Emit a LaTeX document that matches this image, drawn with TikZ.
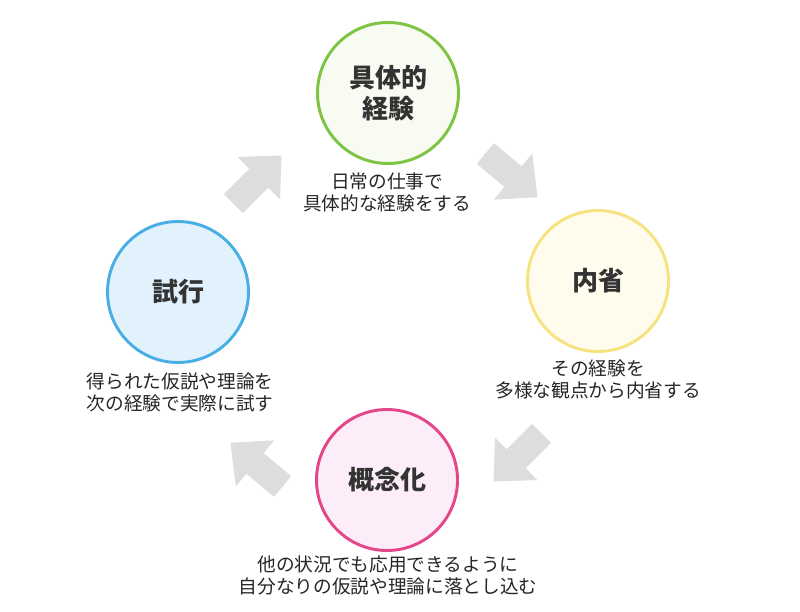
\documentclass[tikz,border=0pt]{standalone}
\usepackage{fontspec}
\newfontfamily\cjk{Noto Sans CJK JP}
\definecolor{arrowgray}{HTML}{DDDDDD}
\definecolor{gstroke}{HTML}{7DC443}
\definecolor{gfill}{HTML}{F7FBF2}
\definecolor{ystroke}{HTML}{F6E27E}
\definecolor{yfill}{HTML}{FFFCEE}
\definecolor{pstroke}{HTML}{E5468A}
\definecolor{pfill}{HTML}{FCEDF8}
\definecolor{bstroke}{HTML}{4AAEE6}
\definecolor{bfill}{HTML}{E1F2FC}
\definecolor{txt}{HTML}{333333}
\tikzset{
  stage/.style={circle, line width=2.2pt, minimum size=141*0.75pt, inner sep=0pt, align=center,
    font=\cjk\bfseries\fontsize{19.5}{23}\selectfont, text=txt},
  caption/.style={align=center, font=\cjk\fontsize{14}{16.5}\selectfont, text=black!85},
  blockarrow/.style={fill=arrowgray, draw=arrowgray, line width=0.6pt, line join=round}
}
\newcommand\bigarrow[3]{%
  \path[blockarrow, shift={(#1,#2)}, rotate=#3]
    (-33,13) -- (3,13) -- (3,29) -- (34,0) -- (3,-29) -- (3,-13) -- (-33,-13) -- cycle;}
\begin{document}
\begin{tikzpicture}[x=0.75pt,y=-0.75pt]
\useasboundingbox[fill=white] (0,0) rectangle (800,611);
\node[stage, draw=gstroke, fill=gfill] (exp) at (388,93) {具体的\\経験};
\node[stage, draw=ystroke, fill=yfill] (ref) at (598,281) {内省};
\node[stage, draw=pstroke, fill=pfill] (con) at (387,480) {概念化};
\node[stage, draw=bstroke, fill=bfill] (act) at (178,292) {試行};
\node[caption] (expc) at (387,192) {日常の仕事で\\具体的な経験をする};
\node[caption] (refc) at (598,379) {その経験を\\多様な観点から内省する};
\node[caption] (conc) at (388,575) {他の状況でも応用できるように\\自分なりの仮説や理論に落とし込む};
\node[caption] (actc) at (180,392) {得られた仮説や理論を\\次の経験で実際に試す};
\bigarrow{257}{180}{45}
\bigarrow{511}{175}{-40}
\bigarrow{518}{457}{-135}
\bigarrow{257}{465}{140}
\end{tikzpicture}
\end{document}
